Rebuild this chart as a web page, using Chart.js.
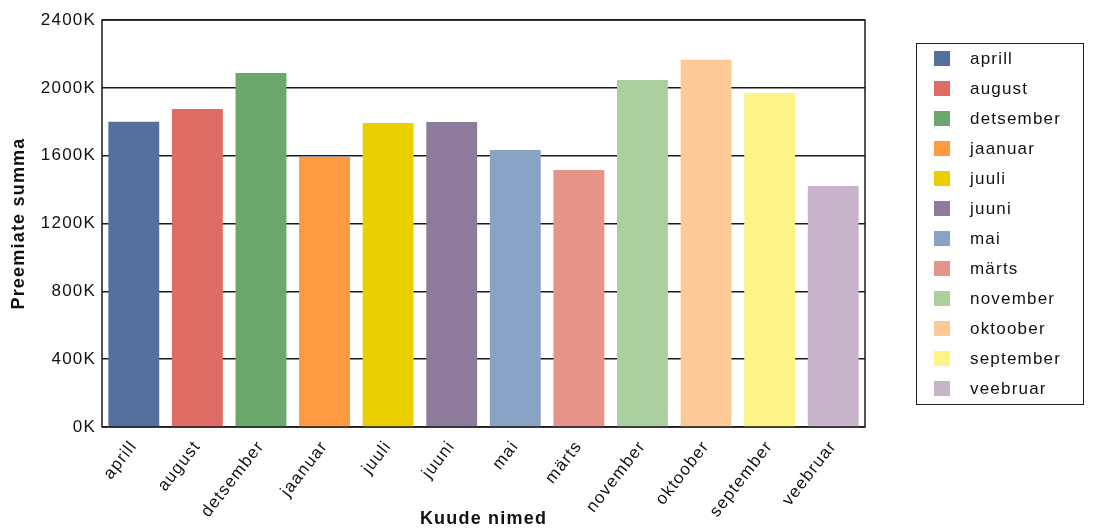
<!DOCTYPE html>
<html>
<head>
<meta charset="utf-8">
<script src="https://cdn.jsdelivr.net/npm/chart.js@4/dist/chart.umd.min.js"></script>
<style>
    html, body { margin: 0; padding: 0; background: #fff; }
    #wrap { position: relative; width: 1101px; height: 530px; }
    #legend {
        position: absolute; left: 916px; top: 43px; width: 168px; height: 362px;
        border: 1px solid #222; box-sizing: border-box;
        font-family: "Liberation Sans", Arial, sans-serif; font-size: 17px; color: #111;
        letter-spacing: 1.2px;
    }
    #legend .item { position: absolute; left: 17px; height: 20px; line-height: 20px; white-space: nowrap; }
    #legend .box { display: inline-block; width: 16px; height: 15px; vertical-align: -2px; margin-right: 20px; }
</style>
</head>
<body>
<div id="wrap">
    <canvas id="chart" width="1101" height="530"></canvas>
    <div id="legend"></div>
</div>
<script>
// Data
const months = ['aprill', 'august', 'detsember', 'jaanuar', 'juuli', 'juuni', 'mai', 'märts', 'november', 'oktoober', 'september', 'veebruar'];
const prizeSums = [1800000, 1875000, 2087000, 1592000, 1793000, 1798000, 1633000, 1515000, 2046000, 2165000, 1970000, 1421000];
const barColors = ['#56709e', '#df6b65', '#6aa86b', '#ff9a40', '#ebd000', '#8e7b9c', '#89a3c4', '#e6948a', '#abcf9f', '#fdc996', '#fdf386', '#c7b3ca'];
const yTicks = [0, 400000, 800000, 1200000, 1600000, 2000000, 2400000];

const FONT = '"Liberation Sans", Arial, sans-serif';

function formatK(value) {
    return `${Math.round(value / 1000)}K`;
}

// frame around the plot area, drawn behind the bars
const frame = {
    id: 'frame',
    beforeDraw(chart) {
        chart.ctx.letterSpacing = '1.2px';
    },
    beforeDatasetsDraw(chart) {
        const { ctx, chartArea: a } = chart;
        ctx.save();
        ctx.strokeStyle = '#1a1a1a';
        ctx.lineWidth = 1.5;
        ctx.strokeRect(a.left, a.top, a.right - a.left, a.bottom - a.top);
        ctx.restore();
    }
};

const chart = new Chart(document.getElementById('chart'), {
    type: 'bar',
    data: {
        labels: months,
        datasets: [{
            data: prizeSums,
            backgroundColor: barColors,
            borderWidth: 0,
            barPercentage: 0.8,
            categoryPercentage: 1.0
        }]
    },
    options: {
        responsive: false,
        animation: false,
        layout: { padding: { top: 20, right: 236, bottom: 0, left: 0 } },
        plugins: {
            legend: { display: false },
            tooltip: { enabled: false }
        },
        scales: {
            x: {
                grid: { display: false },
                border: { display: false },
                ticks: {
                    color: '#111',
                    font: { family: FONT, size: 17 },
                    minRotation: 52,
                    maxRotation: 52,
                    padding: 2
                },
                title: {
                    display: true,
                    text: 'Kuude nimed',
                    color: '#111',
                    font: { family: FONT, size: 18, weight: 'bold' },
                    padding: { top: 0, bottom: 0 }
                },
                afterFit(scale) { scale.height = 103; }
            },
            y: {
                min: 0,
                max: 2400000,
                afterBuildTicks(scale) {
                    scale.ticks = yTicks.map(v => ({ value: v }));
                },
                grid: { color: '#1a1a1a', lineWidth: 1.5, drawTicks: false },
                border: { display: false },
                ticks: {
                    color: '#111',
                    font: { family: FONT, size: 17 },
                    padding: 6,
                    callback: (v) => formatK(v)
                },
                title: {
                    display: true,
                    text: 'Preemiate summa',
                    color: '#111',
                    font: { family: FONT, size: 18, weight: 'bold' },
                    padding: { top: 8, bottom: 0 }
                },
                afterFit(scale) { scale.width = 102; }
            }
        }
    },
    plugins: [frame]
});

// Legend, one entry per month
const legendEl = document.getElementById('legend');
months.forEach((m, i) => {
    const item = document.createElement('div');
    item.className = 'item';
    item.style.top = (5 + i * 30) + 'px';
    item.innerHTML = `<span class="box" style="background:${barColors[i]}"></span>${m}`;
    legendEl.appendChild(item);
});
</script>
</body>
</html>
